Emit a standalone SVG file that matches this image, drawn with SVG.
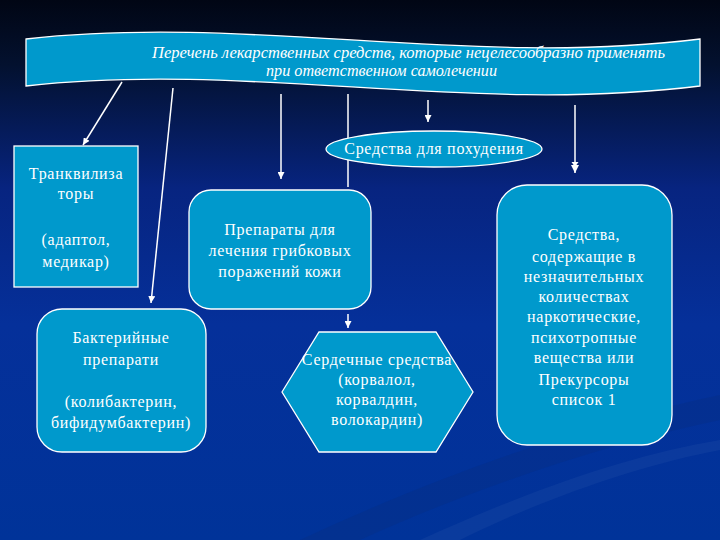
<svg xmlns="http://www.w3.org/2000/svg" width="720" height="540" viewBox="0 0 720 540">
<defs>
<linearGradient id="bg" x1="0" y1="0" x2="0" y2="1">
<stop offset="0" stop-color="#010614"/>
<stop offset="0.12" stop-color="#03112f"/>
<stop offset="0.35" stop-color="#072480"/>
<stop offset="0.6" stop-color="#05309a"/>
<stop offset="1" stop-color="#003399"/>
</linearGradient>
<marker id="arr" viewBox="0 0 8 8" refX="8" refY="4" markerWidth="7" markerHeight="7" markerUnits="userSpaceOnUse" orient="auto">
<path d="M0,0 L8,4 L0,8 Z" fill="#fff"/>
</marker>
<marker id="arr2" viewBox="0 0 11 8" refX="11" refY="4" markerWidth="11" markerHeight="8" markerUnits="userSpaceOnUse" orient="auto">
<path d="M0,0.5 L5,4 L0,7.5 Z M3,0 L11,4 L3,8 Z" fill="#fff"/>
</marker>
</defs>
<style>
.shape{fill:#0099cc;stroke:#ffffff;stroke-width:1.3}
.t{font-family:"Liberation Serif","DejaVu Serif",serif;font-size:16px;fill:#ffffff;text-anchor:middle;letter-spacing:0.7px}
.bt{font-family:"Liberation Serif","DejaVu Serif",serif;font-size:16px;font-style:italic;fill:#ffffff}
.c{stroke:#ffffff;stroke-width:1.5;fill:none}
</style>
<rect width="720" height="540" fill="url(#bg)"/>
<path d="M300,540 C450,470 600,420 720,395 L720,420 C600,445 470,490 360,540 Z" fill="#0a2f80" opacity="0.35"/>
<path d="M420,540 C530,490 630,455 720,440 L720,450 C640,465 540,500 460,540 Z" fill="#ffffff" opacity="0.04"/>

<g id="banner">
<path class="shape" d="M26,39 C250,14 470,68 700,39 L700,86 C470,115 250,61 26,86 Z"/>
<text class="bt" x="152" y="58" textLength="513" lengthAdjust="spacingAndGlyphs">Перечень лекарственных средств, которые нецелесообразно применять</text>
<text class="bt" x="266" y="76" textLength="231" lengthAdjust="spacingAndGlyphs">при ответственном самолечении</text>
</g>

<g id="connectors">
<line class="c" x1="122" y1="82" x2="83" y2="145" marker-end="url(#arr)"/>
<line class="c" x1="173" y1="88" x2="151" y2="303" marker-end="url(#arr)"/>
<line class="c" x1="281" y1="94" x2="281" y2="179" marker-end="url(#arr)"/>
<line class="c" x1="348" y1="94" x2="348" y2="187"/>
<line class="c" x1="348" y1="314" x2="348" y2="328" marker-end="url(#arr)"/>
<line class="c" x1="428" y1="100" x2="428" y2="122" marker-end="url(#arr)"/>
<line class="c" x1="575" y1="105" x2="575" y2="173" marker-end="url(#arr2)"/>
</g>

<g id="pohudenie">
<ellipse class="shape" cx="434" cy="149" rx="108" ry="18"/>
<text class="t" x="434" y="154">Средства для похудения</text>
</g>

<g id="trankvilizatory">
<rect class="shape" x="14" y="146" width="124" height="141"/>
<text class="t" x="76" y="179">Транквилиза</text>
<text class="t" x="76" y="199">торы</text>
<text class="t" x="76" y="245">(адаптол,</text>
<text class="t" x="76" y="267">медикар)</text>
</g>

<g id="gribkovye">
<rect class="shape" x="189" y="190" width="182" height="119" rx="22"/>
<text class="t" x="280" y="235">Препараты для</text>
<text class="t" x="280" y="256">лечения грибковых</text>
<text class="t" x="280" y="277">поражений кожи</text>
</g>

<g id="bakteriynye">
<rect class="shape" x="37" y="309" width="169" height="143" rx="25"/>
<text class="t" x="121" y="343">Бактерийные</text>
<text class="t" x="121" y="365">препарати</text>
<text class="t" x="121" y="407">(колибактерин,</text>
<text class="t" x="121" y="428">бифидумбактерин)</text>
</g>

<g id="serdechnye">
<polygon class="shape" points="282,392 319,332 436,332 473,392 436,452 319,452"/>
<text class="t" x="377" y="365">Сердечные средства</text>
<text class="t" x="377" y="385">(корвалол,</text>
<text class="t" x="377" y="405">корвалдин,</text>
<text class="t" x="377" y="425">волокардин)</text>
</g>

<g id="narkoticheskie">
<rect class="shape" x="497" y="185" width="175" height="260" rx="30"/>
<text class="t" x="584" y="240">Средства,</text>
<text class="t" x="584" y="262">содержащие в</text>
<text class="t" x="584" y="282">незначительных</text>
<text class="t" x="584" y="302">количествах</text>
<text class="t" x="584" y="322">наркотические,</text>
<text class="t" x="584" y="343">психотропные</text>
<text class="t" x="584" y="363">вещества или</text>
<text class="t" x="584" y="385">Прекурсоры</text>
<text class="t" x="584" y="405">список 1</text>
</g>
</svg>
